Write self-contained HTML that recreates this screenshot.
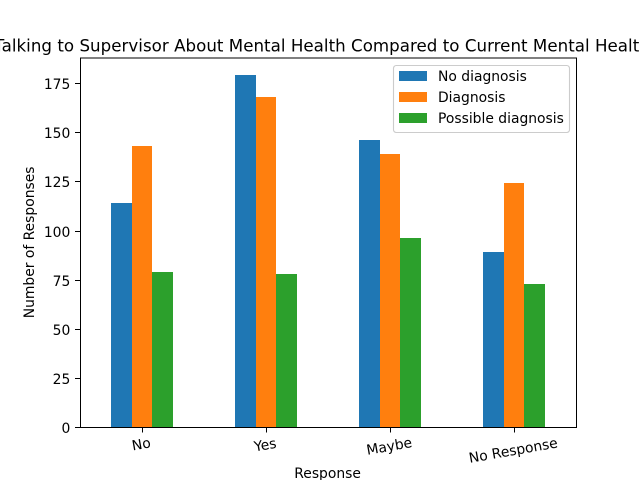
<!DOCTYPE html>
<html>
<head>
<meta charset="utf-8">
<style>
html,body{margin:0;padding:0;background:#fff;width:640px;height:480px;overflow:hidden}
svg{display:block}
text{font-family:"DejaVu Sans","Liberation Sans",sans-serif;fill:#000}
</style>
</head>
<body>
<svg id="chart" xmlns="http://www.w3.org/2000/svg" width="640" height="480" viewBox="0 0 640 480">
  <rect x="0" y="0" width="640" height="480" fill="#fff"/>
  <text x="322" y="51.6" font-size="16.67" letter-spacing="0.03" text-anchor="middle">Talking to Supervisor About Mental Health Compared to Current Mental Health</text>
  <g id="bars"></g>
  <g id="x-axis"></g>
  <g id="y-axis"></g>
  <rect x="80.5" y="58" width="496" height="369.5" fill="none" stroke="#000" stroke-width="1.11" shape-rendering="crispEdges"/>
  <text x="327.6" y="478" font-size="13.89" text-anchor="middle">Response</text>
  <text transform="translate(34 242.4) rotate(-90)" font-size="13.89" text-anchor="middle">Number of Responses</text>
  <g id="legend">
    <rect x="393.5" y="65.5" width="176" height="67" rx="2.8" fill="#fff" fill-opacity="0.8" stroke="#ccc" stroke-width="1.11"/>
  </g>
</svg>
<script>
const categories = ["No", "Yes", "Maybe", "No Response"];
const seriesNames = ["No diagnosis", "Diagnosis", "Possible diagnosis"];
const noDiagnosis = [114, 179, 146, 89];
const diagnosis = [143, 168, 139, 124];
const possibleDiagnosis = [79, 78, 96, 73];
const yTickValues = [0, 25, 50, 75, 100, 125, 150, 175];

const seriesValues = [noDiagnosis, diagnosis, possibleDiagnosis];
const seriesColors = ["#1f77b4", "#ff7f0e", "#2ca02c"];
const NS = "http://www.w3.org/2000/svg";
const plot = { left: 80, right: 576, top: 57.6, bottom: 427.2 };

function maxValue() {
  return Math.max(...seriesValues.map(s => Math.max(...s)));
}
function yScale(v) {
  const top = maxValue() * 1.05;
  return plot.bottom - (v / top) * (plot.bottom - plot.top);
}
function xScale(u) {
  return plot.left + ((u + 0.5) / categories.length) * (plot.right - plot.left);
}
function make(tag, attrs, parent) {
  const el = document.createElementNS(NS, tag);
  for (const k in attrs) el.setAttribute(k, attrs[k]);
  parent.appendChild(el);
  return el;
}

const barsG = document.getElementById("bars");
const barWidth = 0.5 / seriesValues.length;
seriesValues.forEach((vals, s) => {
  vals.forEach((v, c) => {
    const x0 = Math.round(xScale(c - 0.25 + s * barWidth));
    const x1 = Math.round(xScale(c - 0.25 + (s + 1) * barWidth));
    const y0 = Math.round(yScale(v));
    const y1 = Math.round(yScale(0));
    const bar = make("rect", { x: x0, y: y0, width: x1 - x0, height: y1 - y0, fill: seriesColors[s], "shape-rendering": "crispEdges" }, barsG);
    
    
  });
});

const xG = document.getElementById("x-axis");
categories.forEach((label, c) => {
  const x = Math.round(xScale(c)) + 0.5;
  const tick = make("line", { x1: x, x2: x, y1: 427.5, y2: 432.5, stroke: "#000", "stroke-width": 1.11, "shape-rendering": "crispEdges" }, xG);
  
  
  const halfW = label.length * 4;
  const cy = 436.9 + (halfW * 2 * Math.sin(Math.PI / 18) + 13 * Math.cos(Math.PI / 18)) / 2;
  const t = make("text", { "font-size": 13.89, "text-anchor": "middle", transform: "translate(" + (x - 1.2) + " " + cy + ") rotate(-10) translate(0 4.2)" }, xG);
  t.textContent = label;
  
  
});

const yG = document.getElementById("y-axis");
yTickValues.forEach(v => {
  const y = Math.round(yScale(v)) + 0.5;
  const tick = make("line", { x1: 75, x2: 80, y1: y, y2: y, stroke: "#000", "stroke-width": 1.11, "shape-rendering": "crispEdges" }, yG);
  
  
  const t = make("text", { x: 70.3, y: y + 5.5, "font-size": 13.89, "text-anchor": "end" }, yG);
  t.textContent = v;
  
  
});

const legendG = document.getElementById("legend");
seriesNames.forEach((name, i) => {
  const rowY = 71 + i * 21;
  const swatch = make("rect", { x: 399, y: rowY, width: 28, height: 10, fill: seriesColors[i], "shape-rendering": "crispEdges" }, legendG);
  
  
  const t = make("text", { x: 438, y: rowY + 10, "font-size": 13.89 }, legendG);
  t.textContent = name;
  
  
});
</script>
</body>
</html>
